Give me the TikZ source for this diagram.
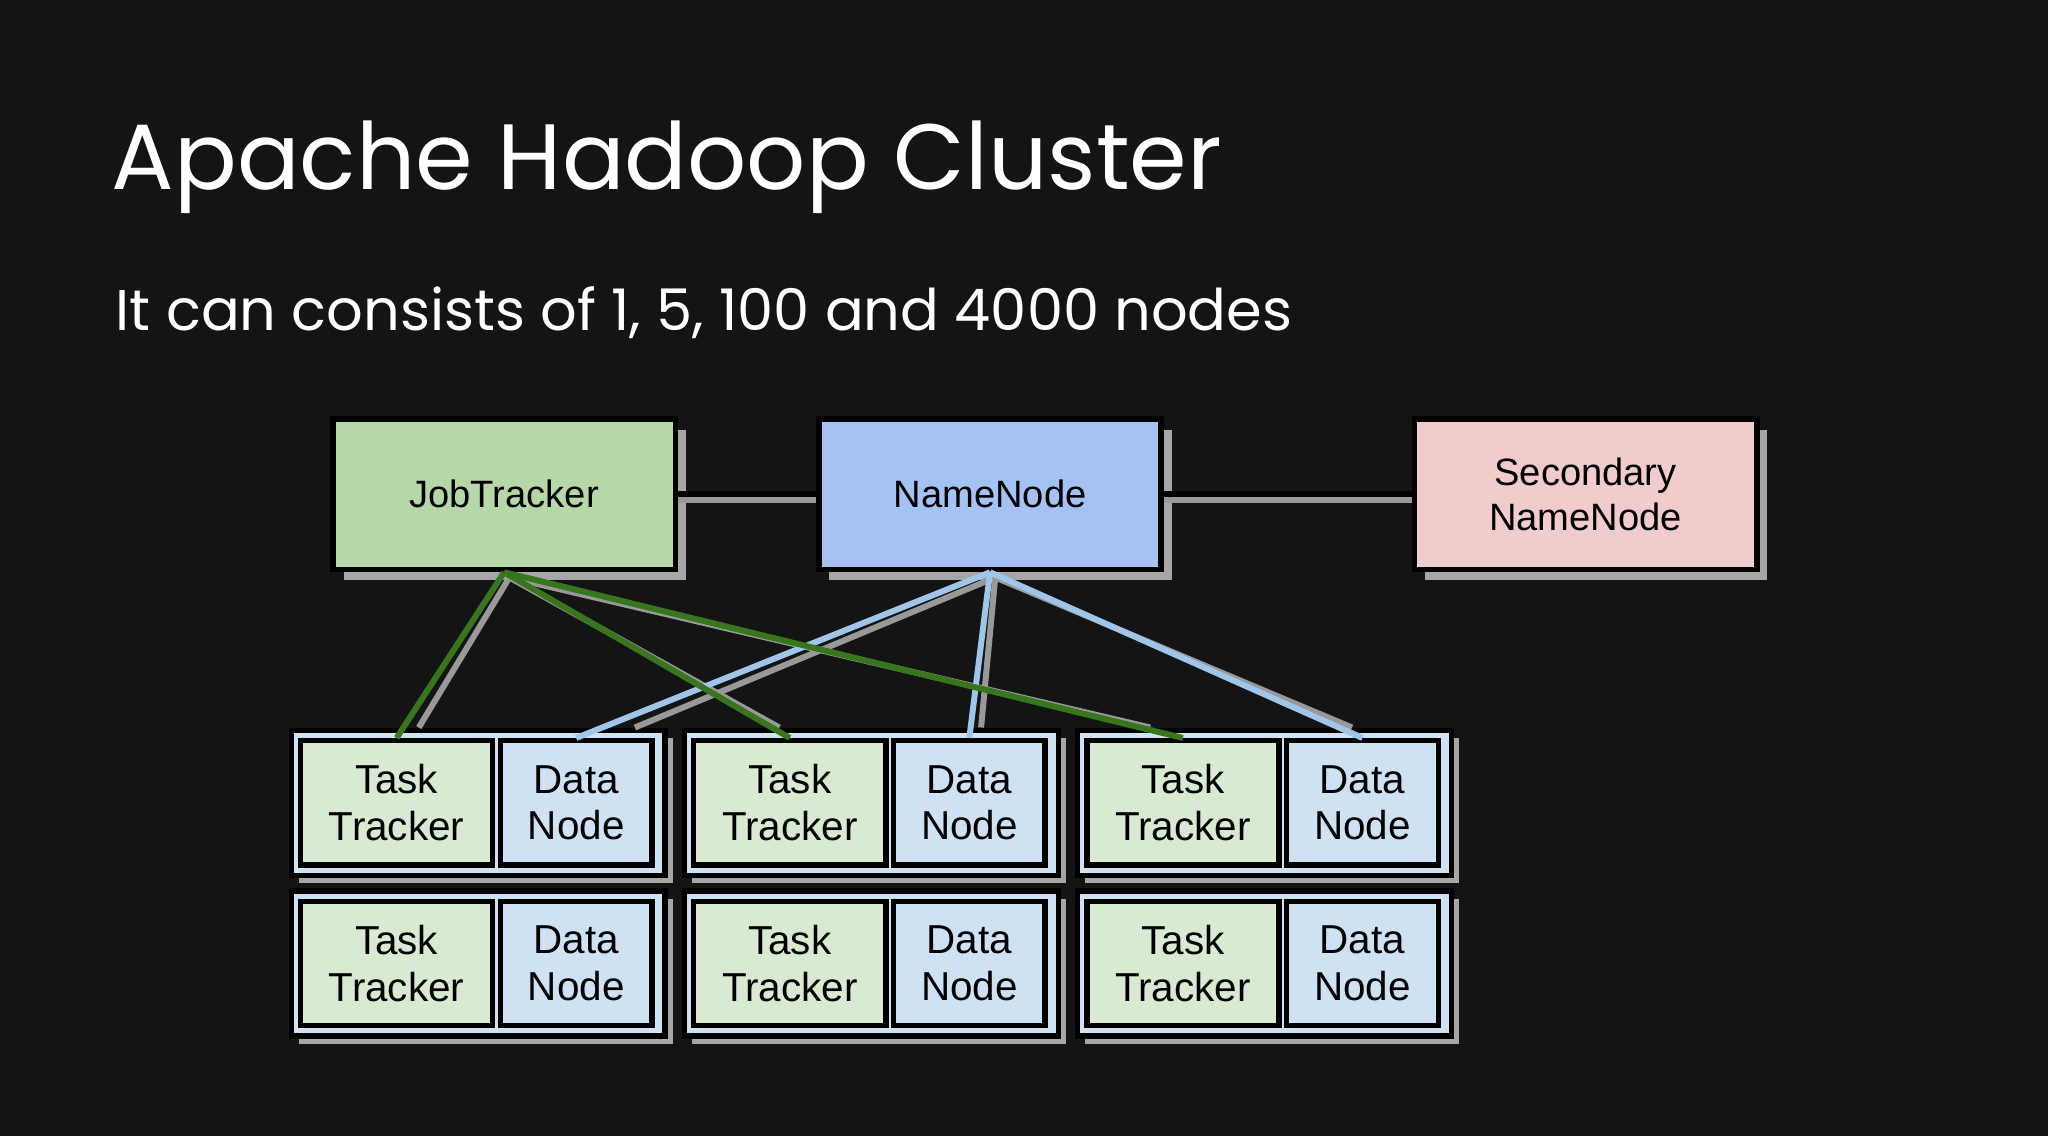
\documentclass[tikz,border=0pt]{standalone}
\usepackage{fontspec}
\setmainfont{Liberation Sans}
\newfontfamily\titlefont{Poppins}
\usetikzlibrary{positioning}
\definecolor{bg}{HTML}{141414}
\definecolor{jtgreen}{HTML}{B6D7A8}
\definecolor{nnblue}{HTML}{A4C2F4}
\definecolor{snnpink}{HTML}{F0CCCC}
\definecolor{ttgreen}{HTML}{D9EAD3}
\definecolor{dnblue}{HTML}{CFE2F3}
\definecolor{lnkgreen}{HTML}{38761D}
\definecolor{lnkblue}{HTML}{9FC5E8}
\tikzset{
  master/.style={draw=black, line width=1.2pt, minimum width=2.62cm, minimum height=1.15cm,
    align=center, font=\fontsize{8.3pt}{10pt}\selectfont},
  worker/.style={draw=black, line width=1.2pt, minimum width=1.47cm, minimum height=0.95cm,
    align=center, font=\fontsize{8.8pt}{10.2pt}\selectfont, inner sep=0pt},
  slot/.style={draw=black, line width=1.2pt, fill=dnblue, minimum width=2.86cm, minimum height=1.11cm, inner sep=0pt},
  shade/.style={fill=gray!70, draw=none},
  link/.style={line width=1.3pt},
  lnkshade/.style={gray!80, line width=1.3pt}
}
\begin{document}
\begin{tikzpicture}[x=0.01cm, y=-0.01cm]
\fill[bg] (0,0) rectangle (1568,870);
\useasboundingbox (0,0) rectangle (1568,870);
% title
\node[anchor=base west, inner sep=0pt, text=white, font=\titlefont\fontsize{20.2pt}{24pt}\selectfont] (title) at (85,145) {Apache Hadoop Cluster};
\node[anchor=base west, inner sep=0pt, text=white!88, font=\titlefont\fontsize{12.5pt}{15pt}\selectfont] (sub) at (88,253) {It can consists of 1, 5, 100 and 4000 nodes};
% master nodes
\foreach \x in {255,627,1083} \fill[shade] (\x+8,329) rectangle (\x+270,444);
\node[master, fill=jtgreen] (jt) at (386,378.5) {JobTracker};
\node[master, fill=nnblue] (nn) at (758,378.5) {NameNode};
\node[master, fill=snnpink] (snn) at (1214,378.5) {Secondary\\NameNode};
\draw[lnkshade] ([yshift=-0.04cm]jt.east) -- ([yshift=-0.04cm]nn.west);
\draw[lnkshade] ([yshift=-0.04cm]nn.east) -- ([yshift=-0.04cm]snn.west);
\draw[link] (jt.east) -- (nn.west);
\draw[link] (nn.east) -- (snn.west);
% worker slots
\foreach \i/\x in {1/221,2/522,3/823}{
  \foreach \r/\y in {1/557,2/680}{
    \fill[shade] (\x+8,\y+8) rectangle (\x+294,\y+119);
    \node[slot, anchor=north west] (g\i\r) at (\x,\y) {};
    \node[worker, fill=ttgreen, anchor=north west] (t\i\r) at (\x+7,\y+8) {Task\\Tracker};
    \node[worker, fill=dnblue, anchor=north west, minimum width=1.16cm] (d\i\r) at (\x+160,\y+8) {Data\\Node};
  }
}
% links to workers
\foreach \i/\dx in {1/17,2/-8,3/-25}{
  \coordinate (jts\i) at ([xshift=\dx*0.01cm]t\i1.north);
  \draw[lnkshade] ([shift={(4,4)}]jt.south) -- (jts\i |- g\i1.north);
}
\foreach \i/\dx in {1/45,2/9,3/-8}{
  \coordinate (nns\i) at ([xshift=\dx*0.01cm]d\i1.north);
  \draw[lnkshade] ([shift={(4,4)}]nn.south) -- (nns\i |- g\i1.north);
}
\foreach \i in {1,2,3}{
  \draw[link, lnkgreen] (jt.south) -- (t\i1.north);
  \draw[link, lnkblue] (nn.south) -- (d\i1.north);
}
\end{tikzpicture}
\end{document}
